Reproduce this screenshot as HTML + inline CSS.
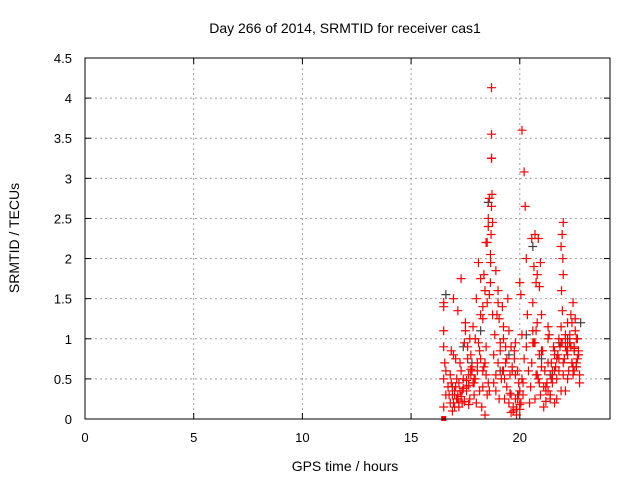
<!DOCTYPE html>
<html><head><meta charset="utf-8"><style>
body{margin:0;background:#fff;}
svg{display:block;font-family:"Liberation Sans",sans-serif;}
</style></head><body>
<svg id="chart" width="640" height="480" viewBox="0 0 640 480">
<rect width="640" height="480" fill="#fff"/>
<text x="345" y="33" font-size="14" text-anchor="middle">Day 266 of 2014, SRMTID for receiver cas1</text>
<g id="grid"></g>
<g id="axes"></g>
<g id="marks"></g>
<rect x="85" y="58" width="525" height="361" fill="none" stroke="#000" stroke-width="1"/>
<text x="345" y="471" font-size="14" text-anchor="middle">GPS time / hours</text>
<text transform="translate(19,238) rotate(-90)" font-size="14" text-anchor="middle">SRMTID / TECUs</text>
</svg>
<script>
const xTicks=[0,5,10,15,20];
const yTicks=[0,0.5,1,1.5,2,2.5,3,3.5,4,4.5];
const yTickLabels=["0","0.5","1","1.5","2","2.5","3","3.5","4","4.5"];
const redX=[16.5,16.5,16.5,16.5,16.55,16.5,16.6,16.5,16.6,16.7,16.8,16.9,17.0,17.1,17.2,16.8,16.9,17.0,17.1,17.2,17.3,16.75,16.85,16.95,17.05,17.15,17.25,17.35,17.4,17.45,17.5,17.55,17.6,17.65,17.7,17.5,17.6,17.7,17.8,17.9,17.95,17.75,17.85,17.9,18.0,18.05,18.1,18.15,18.2,18.0,18.1,18.2,18.3,17.95,18.05,18.15,18.25,18.3,18.35,18.4,18.45,18.5,18.3,18.35,18.4,18.45,18.5,18.55,18.6,18.65,18.7,18.75,18.7,18.72,18.68,18.66,18.7,18.65,18.75,18.7,18.6,18.55,18.5,18.8,18.85,18.9,18.95,19.0,19.05,19.1,18.8,18.9,19.0,19.1,19.2,19.25,19.3,19.35,19.2,19.3,19.4,19.45,19.5,19.55,19.6,19.4,19.5,19.6,19.65,19.7,19.75,19.8,19.85,19.9,19.95,19.7,19.8,19.9,20.0,20.05,20.1,20.15,20.0,20.1,20.2,20.25,20.3,20.35,20.1,20.2,20.15,20.05,20.3,20.4,20.45,20.5,20.55,20.6,20.65,20.7,20.75,20.8,20.85,20.9,20.6,20.7,20.8,20.9,20.95,21.0,20.65,20.75,20.85,20.95,21.0,21.05,21.1,21.15,21.2,21.25,21.3,21.35,21.4,21.45,21.5,21.55,21.6,21.65,21.7,21.2,21.3,21.4,21.5,21.6,21.7,21.75,21.8,21.85,21.9,21.95,22.0,21.95,21.9,21.98,22.0,21.92,21.96,22.05,22.1,22.15,22.2,22.25,22.3,22.35,22.4,22.45,22.5,22.55,22.6,22.65,22.7,22.2,22.3,22.4,22.5,22.6,22.7,22.75,22.1,22.2,22.45,22.55,22.65,22.75,21.3,21.45,21.6,20.55,20.7,19.25,19.0,18.9,17.3,17.15,16.95,
16.85,16.95,17.05,17.15,17.25,17.35,16.9,17.0,17.1,17.2,17.3,17.4,17.45,17.55,17.65,17.75,17.85,17.55,17.65,17.75,17.8,17.9,19.55,19.65,19.75,19.85,19.95,20.0,19.6,19.8,20.0,21.1,21.2,21.3,21.4,21.5,21.6,21.7,21.8,21.9,22.0,22.1,22.2,22.3,22.4,22.5,22.6,22.7,21.8,21.9,22.0,22.1,22.3,22.5,22.35,22.45,18.2,18.3,18.4,18.45,18.55,18.6,19.05,19.15,19.25,19.35,20.8,20.9,21.0,20.6,20.75];
const redY=[1.45,1.4,1.1,0.9,0.7,0.5,0.3,0.15,0.6,0.4,0.2,0.3,0.35,0.25,0.45,0.55,0.1,0.15,0.5,0.2,0.6,0.3,0.45,0.2,0.4,0.3,0.7,0.35,0.5,0.95,1.1,0.4,0.75,0.55,0.25,1.2,0.9,1.0,0.6,0.3,0.5,0.8,1.15,0.45,0.2,0.7,0.95,0.35,1.3,1.5,1.95,1.75,1.4,1.0,0.6,0.85,0.15,0.4,0.65,0.05,0.9,0.3,1.25,1.8,1.6,2.2,1.45,2.5,2.75,2.05,2.65,2.45,3.25,2.8,2.3,1.95,3.55,1.7,1.3,4.13,1.55,2.4,2.2,0.8,1.05,0.55,1.3,0.7,1.25,0.95,0.45,0.35,1.6,0.85,0.6,1.15,0.5,0.9,1.4,0.25,0.75,1.5,1.1,0.55,0.9,0.4,0.2,0.3,0.65,0.1,0.85,0.55,0.05,0.25,0.45,0.15,0.95,0.6,0.35,0.2,0.5,0.3,1.7,3.6,3.08,2.65,2.0,1.3,1.05,0.75,0.45,1.55,0.9,0.6,0.2,0.4,0.7,1.1,0.95,0.25,0.55,1.8,2.25,1.65,1.45,2.3,1.2,0.8,1.95,0.65,1.9,1.7,0.5,0.3,1.3,0.85,0.15,0.6,0.35,0.45,0.7,1.05,0.25,0.5,0.55,0.9,0.2,0.65,0.75,0.4,1.0,0.3,0.6,0.85,0.5,0.8,1.0,0.9,1.15,0.95,2.45,2.3,2.15,2.0,1.8,1.6,1.35,0.75,1.0,0.85,1.2,0.6,0.95,1.3,0.7,0.55,0.9,1.1,0.65,0.75,0.8,0.5,1.05,1.2,0.6,0.7,0.85,0.45,0.35,0.9,1.45,1.25,1.0,0.55,1.15,0.7,0.8,2.25,0.95,1.0,1.45,1.85,1.75,1.35,1.5,0.85,0.8,0.75,
0.25,0.35,0.2,0.4,0.3,0.25,0.15,0.28,0.38,0.22,0.48,0.18,0.62,0.45,0.35,0.42,0.55,0.65,0.5,0.32,0.6,0.75,0.12,0.3,0.18,0.08,0.25,0.12,0.4,0.22,0.35,0.3,0.45,0.6,0.25,0.75,0.35,0.55,0.9,0.8,0.95,0.7,0.85,1.0,0.8,0.6,0.95,0.7,1.05,0.95,0.88,0.9,0.65,0.75,0.6,0.7,0.55,0.45,0.35,0.25,0.5,0.6,0.7,0.55,0.45,0.85,0.95,1.1,1.2,1.35];
const greyX=[16.6,16.9,17.4,17.8,18.2,18.55,18.7,19.1,19.5,19.9,20.3,20.6,21.0,21.4,21.8,22.2,22.6,22.8];
const greyY=[1.55,0.4,0.9,0.7,1.1,2.7,3.25,0.6,0.8,0.3,1.05,2.15,0.75,0.55,0.95,1.0,0.65,1.2];
const X0=85,X1=610,Y0=419,Y1=58,XMAX=24.15,YMAX=4.5;
function sx(v){return X0+(X1-X0)*v/XMAX;}
function sy(v){return Y0-(Y0-Y1)*v/YMAX;}
const NS="http://www.w3.org/2000/svg";
const grid=document.getElementById('grid'),axes=document.getElementById('axes'),marks=document.getElementById('marks');
function mk(t,a,p){const e=document.createElementNS(NS,t);for(const k in a)e.setAttribute(k,a[k]);p.appendChild(e);return e;}
xTicks.forEach(v=>{
 const x=sx(v);
 if(v>0){const g=mk('line',{x1:x,x2:x,y1:Y1,y2:Y0,stroke:'#a0a0a0','stroke-dasharray':'2,3'},grid);
 
 }
 const t=mk('line',{x1:x,x2:x,y1:Y0,y2:Y0-6,stroke:'#000'},axes);
 
 
 const t2=mk('line',{x1:x,x2:x,y1:Y1,y2:Y1+6,stroke:'#000'},axes);
 
 
 const l=mk('text',{x:x,y:442,'font-size':13,'text-anchor':'middle'},axes);l.textContent=String(v);
 
 
});
yTicks.forEach((v,i)=>{
 const y=sy(v);
 if(v>0&&v<YMAX){const g=mk('line',{x1:X0,x2:X1,y1:y,y2:y,stroke:'#a0a0a0','stroke-dasharray':'2,3'},grid);
 
 }
 const t=mk('line',{x1:X0,x2:X0+6,y1:y,y2:y,stroke:'#000'},axes);
 
 
 const t2=mk('line',{x1:X1,x2:X1-6,y1:y,y2:y,stroke:'#000'},axes);
 
 
 const l=mk('text',{x:72,y:y+5,'font-size':13,'text-anchor':'end'},axes);l.textContent=yTickLabels[i];
 
 
});
function plus(xv,yv,col,name){
 const x=sx(xv),y=sy(yv);
 const p=mk('path',{d:`M${x-4.5},${y}H${x+4.5}M${x},${y-4.5}V${y+4.5}`,stroke:col,'stroke-width':1.2,fill:'none'},marks);
 
 
}
greyX.forEach((v,i)=>plus(v,greyY[i],'#404040','grey-point'));
redX.forEach((v,i)=>plus(v,redY[i],'#ff0000','red-point'));
const sq=mk('rect',{x:sx(16.5)-2.5,y:sy(0)-3,width:5,height:5,fill:'#ff0000'},marks);


</script>
</body></html>
